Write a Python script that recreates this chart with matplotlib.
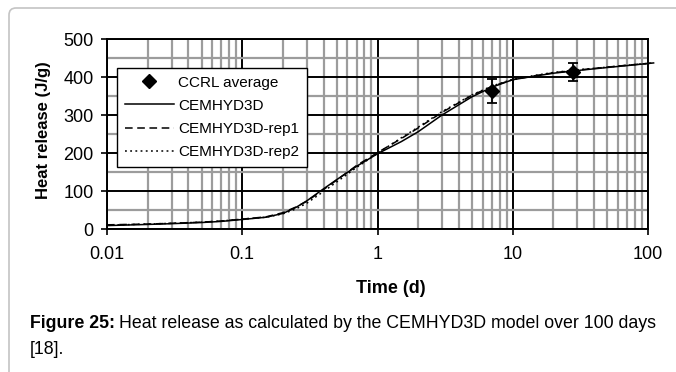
import numpy as np
import matplotlib
matplotlib.use("Agg")
import matplotlib.pyplot as plt
from matplotlib.patches import FancyBboxPatch
from matplotlib.transforms import IdentityTransform
from matplotlib.ticker import LogLocator, MultipleLocator

plt.rcParams['font.family'] = ['Liberation Sans', 'DejaVu Sans']

# measured calorimetry (CCRL) with spread
ccrl_t = [7, 28]
ccrl_q = [363, 414]
ccrl_err = [31, 24]

# model curves (time in days, heat in J/g)
t_model = [0.01, 0.02, 0.03, 0.05, 0.07, 0.1, 0.15, 0.2, 0.25, 0.3, 0.4, 0.5,
           0.7, 1.0, 1.5, 2.0, 3.0, 5.0, 7.0, 10, 15, 20, 30, 50, 70, 110]
q_cem = [9, 12, 14, 17, 20, 25, 31, 41, 57, 74, 106, 130,
         165, 198, 230, 256, 300, 348, 373, 393, 403, 410, 417, 425, 430, 437]
q_rep1 = [11, 13, 15, 18, 21, 26, 32, 43, 58, 73, 104, 129,
          167, 201, 238, 266, 307, 352, 375, 393, 404, 411, 418, 426, 431, 437]
q_rep2 = [10, 13, 15, 18, 21, 26, 31, 40, 53, 68, 99, 124,
          162, 199, 240, 268, 309, 353, 376, 394, 405, 412, 419, 426, 431, 437]

fig = plt.figure(figsize=(6.76, 3.72), dpi=100)
ax = fig.add_axes([107/676, 1 - 229/372, 541/676, 190/372])

ax.set_xscale('log')
ax.set_xlim(0.01, 100)
ax.set_ylim(0, 500)

ax.xaxis.set_minor_locator(LogLocator(base=10, subs=np.arange(2, 10)))
ax.yaxis.set_major_locator(MultipleLocator(100))
ax.yaxis.set_minor_locator(MultipleLocator(50))
ax.set_xticks([0.01, 0.1, 1, 10, 100])
ax.set_xticklabels(['0.01', '0.1', '1', '10', '100'])

ax.grid(which='minor', color='#9c9c9c', linewidth=1.6)
ax.grid(which='major', color='black', linewidth=1.4)
ax.set_axisbelow(True)
ax.tick_params(which='minor', length=0)
ax.tick_params(which='major', length=4.5, width=1.2, labelsize=13)
ax.tick_params(axis='x', pad=8)
ax.tick_params(axis='y', pad=5)
for s in ax.spines.values():
    s.set_linewidth(1.4)

ax.plot(t_model, q_cem, color='black', lw=1.1, clip_on=False, label='CEMHYD3D')
ax.plot(t_model, q_rep1, color='black', lw=1.1, ls=(0, (5, 3)), clip_on=False,
        label='CEMHYD3D-rep1')
ax.plot(t_model, q_rep2, color='black', lw=1.1, ls=(0, (1.2, 2.2)), clip_on=False,
        label='CEMHYD3D-rep2')
ax.errorbar(ccrl_t, ccrl_q, yerr=ccrl_err, fmt='none', ecolor='black',
            elinewidth=1.3, capsize=3.5, capthick=1.3, zorder=5)
ax.plot(ccrl_t, ccrl_q, 'D', color='black', ms=7, zorder=6, label='CCRL average')

handles, labels = ax.get_legend_handles_labels()
order = [3, 0, 1, 2]
leg = ax.legend([handles[i] for i in order], [labels[i] for i in order],
                loc='upper left', bbox_to_anchor=(10/541, 161/190),
                borderaxespad=0, fancybox=False, edgecolor='black',
                framealpha=1, fontsize=11, handlelength=3.2,
                handletextpad=0.3, labelspacing=0.6, borderpad=0.5)
leg.get_frame().set_linewidth(1.0)

ax.set_xlabel('Time (d)', fontsize=13, fontweight='bold')
ax.xaxis.set_label_coords((391 - 107)/541, -(280 - 229)/190)
ax.set_ylabel('Heat release (J/g)', fontsize=12, fontweight='bold')
ax.yaxis.set_label_coords(-(107 - 51)/541, 0.52)
ax.yaxis.label.set_va('bottom')

# rounded panel outline
panel = FancyBboxPatch((9, -60), 740, 364 + 60, boxstyle='round,pad=0,rounding_size=7',
                       transform=IdentityTransform(), facecolor='none',
                       edgecolor='#c4c4c4', linewidth=1.2)
fig.add_artist(panel)

# caption
cap_size = 12.8
bold = fig.text(30/676, (372 - 328)/372, 'Figure 25:', fontsize=cap_size,
                fontweight='bold', va='baseline')
renderer = fig.canvas.get_renderer()
bb = bold.get_window_extent(renderer)
fig.text((bb.x1 + 4)/676, (372 - 328)/372,
         'Heat release as calculated by the CEMHYD3D model over 100 days',
         fontsize=cap_size, va='baseline')
fig.text(30/676, (372 - 354)/372, '[18].', fontsize=cap_size, va='baseline')

fig.savefig('out.png', dpi=100)
